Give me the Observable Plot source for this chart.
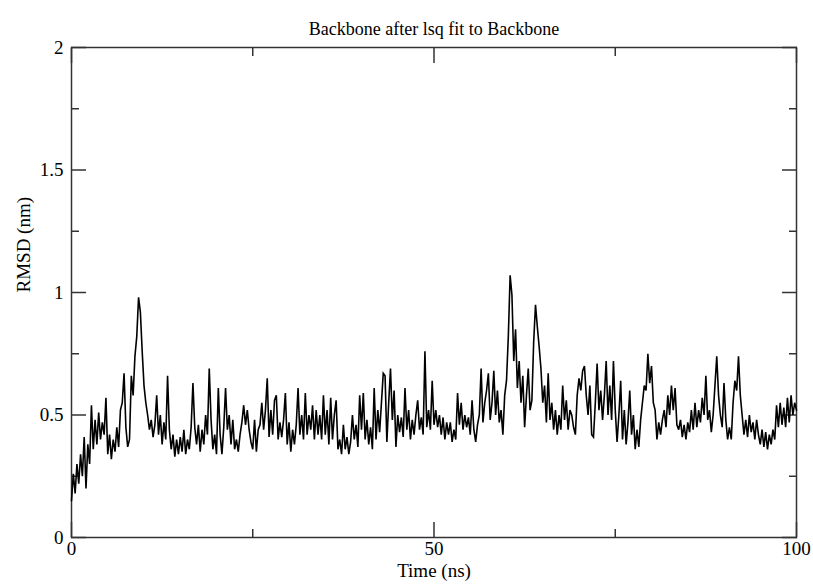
<!DOCTYPE html>
<html>
<head>
<meta charset="utf-8">
<script src="https://cdn.jsdelivr.net/npm/d3@7"></script>
<script src="https://cdn.jsdelivr.net/npm/@observablehq/plot@0.6"></script>
<style>
  html, body { margin: 0; padding: 0; background: #fff; }
  #chart svg { display: block; }
  #chart svg, #chart svg text { font-family: "Liberation Serif", "Times New Roman", serif !important; }
</style>
</head>
<body>
<div id="chart"></div>
<script>
// Backbone RMSD after least-squares fit, sampled every 0.25 ns over 100 ns
const titleText = "Backbone after lsq fit to Backbone";
const xLabel = "Time (ns)";
const yLabel = "RMSD (nm)";
const timeStep = 0.25;

const rmsd = [
  0.15, 0.26, 0.18, 0.30,   0.22, 0.34, 0.25, 0.41,   0.20, 0.38, 0.30, 0.54,   0.36, 0.48, 0.38, 0.51,
  0.40, 0.47, 0.42, 0.57,   0.34, 0.42, 0.32, 0.40,   0.35, 0.45, 0.37, 0.52,   0.55, 0.67, 0.45, 0.37,
  0.40, 0.66, 0.58, 0.74,   0.82, 0.98, 0.92, 0.76,   0.62, 0.55, 0.50, 0.44,   0.48, 0.41, 0.46, 0.58,
  0.42, 0.50, 0.38, 0.47,   0.40, 0.66, 0.44, 0.36,   0.42, 0.33, 0.40, 0.34,   0.41, 0.35, 0.44, 0.34,
  0.40, 0.36, 0.45, 0.63,   0.45, 0.38, 0.46, 0.35,   0.44, 0.38, 0.50, 0.42,   0.69, 0.48, 0.36, 0.42,
  0.34, 0.61, 0.42, 0.34,   0.45, 0.61, 0.44, 0.50,   0.38, 0.48, 0.36, 0.40,   0.35, 0.42, 0.47, 0.54,
  0.46, 0.52, 0.44, 0.39,   0.36, 0.48, 0.35, 0.44,   0.46, 0.55, 0.44, 0.52,   0.65, 0.41, 0.52, 0.42,
  0.56, 0.58, 0.40, 0.47,   0.41, 0.48, 0.59, 0.38,   0.47, 0.35, 0.44, 0.38,   0.46, 0.61, 0.42, 0.50,
  0.40, 0.59, 0.42, 0.50,   0.44, 0.54, 0.40, 0.52,   0.42, 0.50, 0.40, 0.58,   0.42, 0.52, 0.38, 0.57,
  0.40, 0.50, 0.56, 0.36,   0.40, 0.34, 0.46, 0.36,   0.41, 0.34, 0.39, 0.50,   0.40, 0.46, 0.37, 0.58,
  0.44, 0.59, 0.40, 0.48,   0.38, 0.45, 0.36, 0.61,   0.40, 0.52, 0.43, 0.55,   0.67, 0.66, 0.39, 0.55,
  0.69, 0.48, 0.60, 0.37,   0.50, 0.43, 0.49, 0.41,   0.61, 0.44, 0.52, 0.40,   0.48, 0.42, 0.50, 0.56,
  0.44, 0.49, 0.42, 0.76,   0.45, 0.52, 0.44, 0.64,   0.46, 0.52, 0.45, 0.50,   0.42, 0.49, 0.40, 0.47,
  0.42, 0.47, 0.39, 0.44,   0.40, 0.59, 0.46, 0.55,   0.44, 0.50, 0.45, 0.49,   0.42, 0.56, 0.44, 0.39,
  0.46, 0.50, 0.69, 0.47,   0.55, 0.60, 0.67, 0.48,   0.55, 0.68, 0.50, 0.60,   0.47, 0.52, 0.42, 0.58,
  0.64, 0.82, 1.07, 0.99,   0.72, 0.85, 0.61, 0.72,   0.55, 0.66, 0.45, 0.58,   0.69, 0.52, 0.56, 0.80,
  0.95, 0.86, 0.78, 0.69,   0.55, 0.62, 0.47, 0.67,   0.48, 0.55, 0.44, 0.52,   0.42, 0.50, 0.44, 0.62,
  0.48, 0.56, 0.44, 0.52,   0.50, 0.45, 0.42, 0.58,   0.65, 0.60, 0.68, 0.70,   0.58, 0.50, 0.62, 0.42,
  0.41, 0.55, 0.71, 0.52,   0.60, 0.48, 0.58, 0.72,   0.50, 0.62, 0.48, 0.72,   0.52, 0.39, 0.50, 0.64,
  0.40, 0.52, 0.38, 0.47,   0.60, 0.42, 0.50, 0.36,   0.44, 0.37, 0.48, 0.55,   0.62, 0.60, 0.75, 0.63,
  0.70, 0.55, 0.52, 0.40,   0.47, 0.42, 0.48, 0.52,   0.45, 0.58, 0.50, 0.62,   0.52, 0.61, 0.46, 0.44,
  0.48, 0.41, 0.46, 0.40,   0.47, 0.43, 0.52, 0.44,   0.55, 0.45, 0.52, 0.47,   0.57, 0.50, 0.66, 0.48,
  0.52, 0.43, 0.50, 0.62,   0.74, 0.58, 0.50, 0.45,   0.63, 0.48, 0.40, 0.45,   0.40, 0.55, 0.64, 0.60,
  0.74, 0.58, 0.50, 0.42,   0.48, 0.41, 0.50, 0.43,   0.47, 0.40, 0.48, 0.42,   0.38, 0.44, 0.37, 0.43,
  0.36, 0.42, 0.38, 0.44,   0.40, 0.54, 0.45, 0.55,   0.46, 0.53, 0.45, 0.57,   0.47, 0.58, 0.50, 0.55,
  0.52
];

const xMajor = [0, 50, 100];
const xMinor = [25, 75];
const yMajor = [0, 0.5, 1, 1.5, 2];
const yMinor = [0.25, 0.75, 1.25, 1.75];

const series = rmsd.map((v, i) => ({t: i * timeStep, v}));

const serif = "Liberation Serif";
const axisInk = "#333";
const fmt = d => String(d);

const chart = Plot.plot({
  width: 813,
  height: 584,
  marginLeft: 71,
  marginRight: 17,
  marginTop: 47,
  marginBottom: 47,
  style: {fontFamily: serif, fontSize: "19px", background: "#fff", color: "#000"},
  x: {domain: [0, 100], label: null},
  y: {domain: [0, 2], label: null},
  marks: [
    Plot.frame({stroke: axisInk, strokeWidth: 1.5}),
    // inward major and minor ticks on all four sides
    Plot.axisX(xMajor, {anchor: "bottom", tickSize: -15, fill: "none", stroke: axisInk, strokeWidth: 1.5, label: null}),
    Plot.axisX(xMinor, {anchor: "bottom", tickSize: -8, fill: "none", stroke: axisInk, strokeWidth: 1.5, label: null}),
    Plot.axisX(xMajor, {anchor: "top", tickSize: -15, fill: "none", stroke: axisInk, strokeWidth: 1.5, label: null}),
    Plot.axisX(xMinor, {anchor: "top", tickSize: -8, fill: "none", stroke: axisInk, strokeWidth: 1.5, label: null}),
    Plot.axisY(yMajor, {anchor: "left", tickSize: -15, fill: "none", stroke: axisInk, strokeWidth: 1.5, label: null}),
    Plot.axisY(yMinor, {anchor: "left", tickSize: -8, fill: "none", stroke: axisInk, strokeWidth: 1.5, label: null}),
    Plot.axisY(yMajor, {anchor: "right", tickSize: -15, fill: "none", stroke: axisInk, strokeWidth: 1.5, label: null}),
    Plot.axisY(yMinor, {anchor: "right", tickSize: -8, fill: "none", stroke: axisInk, strokeWidth: 1.5, label: null}),
    // tick labels
    Plot.axisX(xMajor, {anchor: "bottom", tickSize: 0, tickPadding: 4, tickFormat: fmt, label: null, fill: "#000", fontFamily: serif, fontSize: 19}),
    Plot.axisY(yMajor, {anchor: "left", tickSize: 0, tickPadding: 8, tickFormat: fmt, label: null, fill: "#000", fontFamily: serif, fontSize: 19}),
    // RMSD trace
    Plot.line(series, {x: "t", y: "v", stroke: "#000", strokeWidth: 1.6, strokeLinejoin: "miter", strokeMiterlimit: 3}),
    // title and axis titles
    Plot.text([titleText], {frameAnchor: "top", dy: -25, fontSize: 18, fontFamily: serif, fill: "#000"}),
    Plot.text([xLabel], {frameAnchor: "bottom", dy: 39, fontSize: 19, fontFamily: serif, fill: "#000"}),
    Plot.text([yLabel], {frameAnchor: "left", dx: -48, rotate: -90, fontSize: 19, fontFamily: serif, fill: "#000"})
  ]
});

document.getElementById("chart").appendChild(chart);
</script>
</body>
</html>
